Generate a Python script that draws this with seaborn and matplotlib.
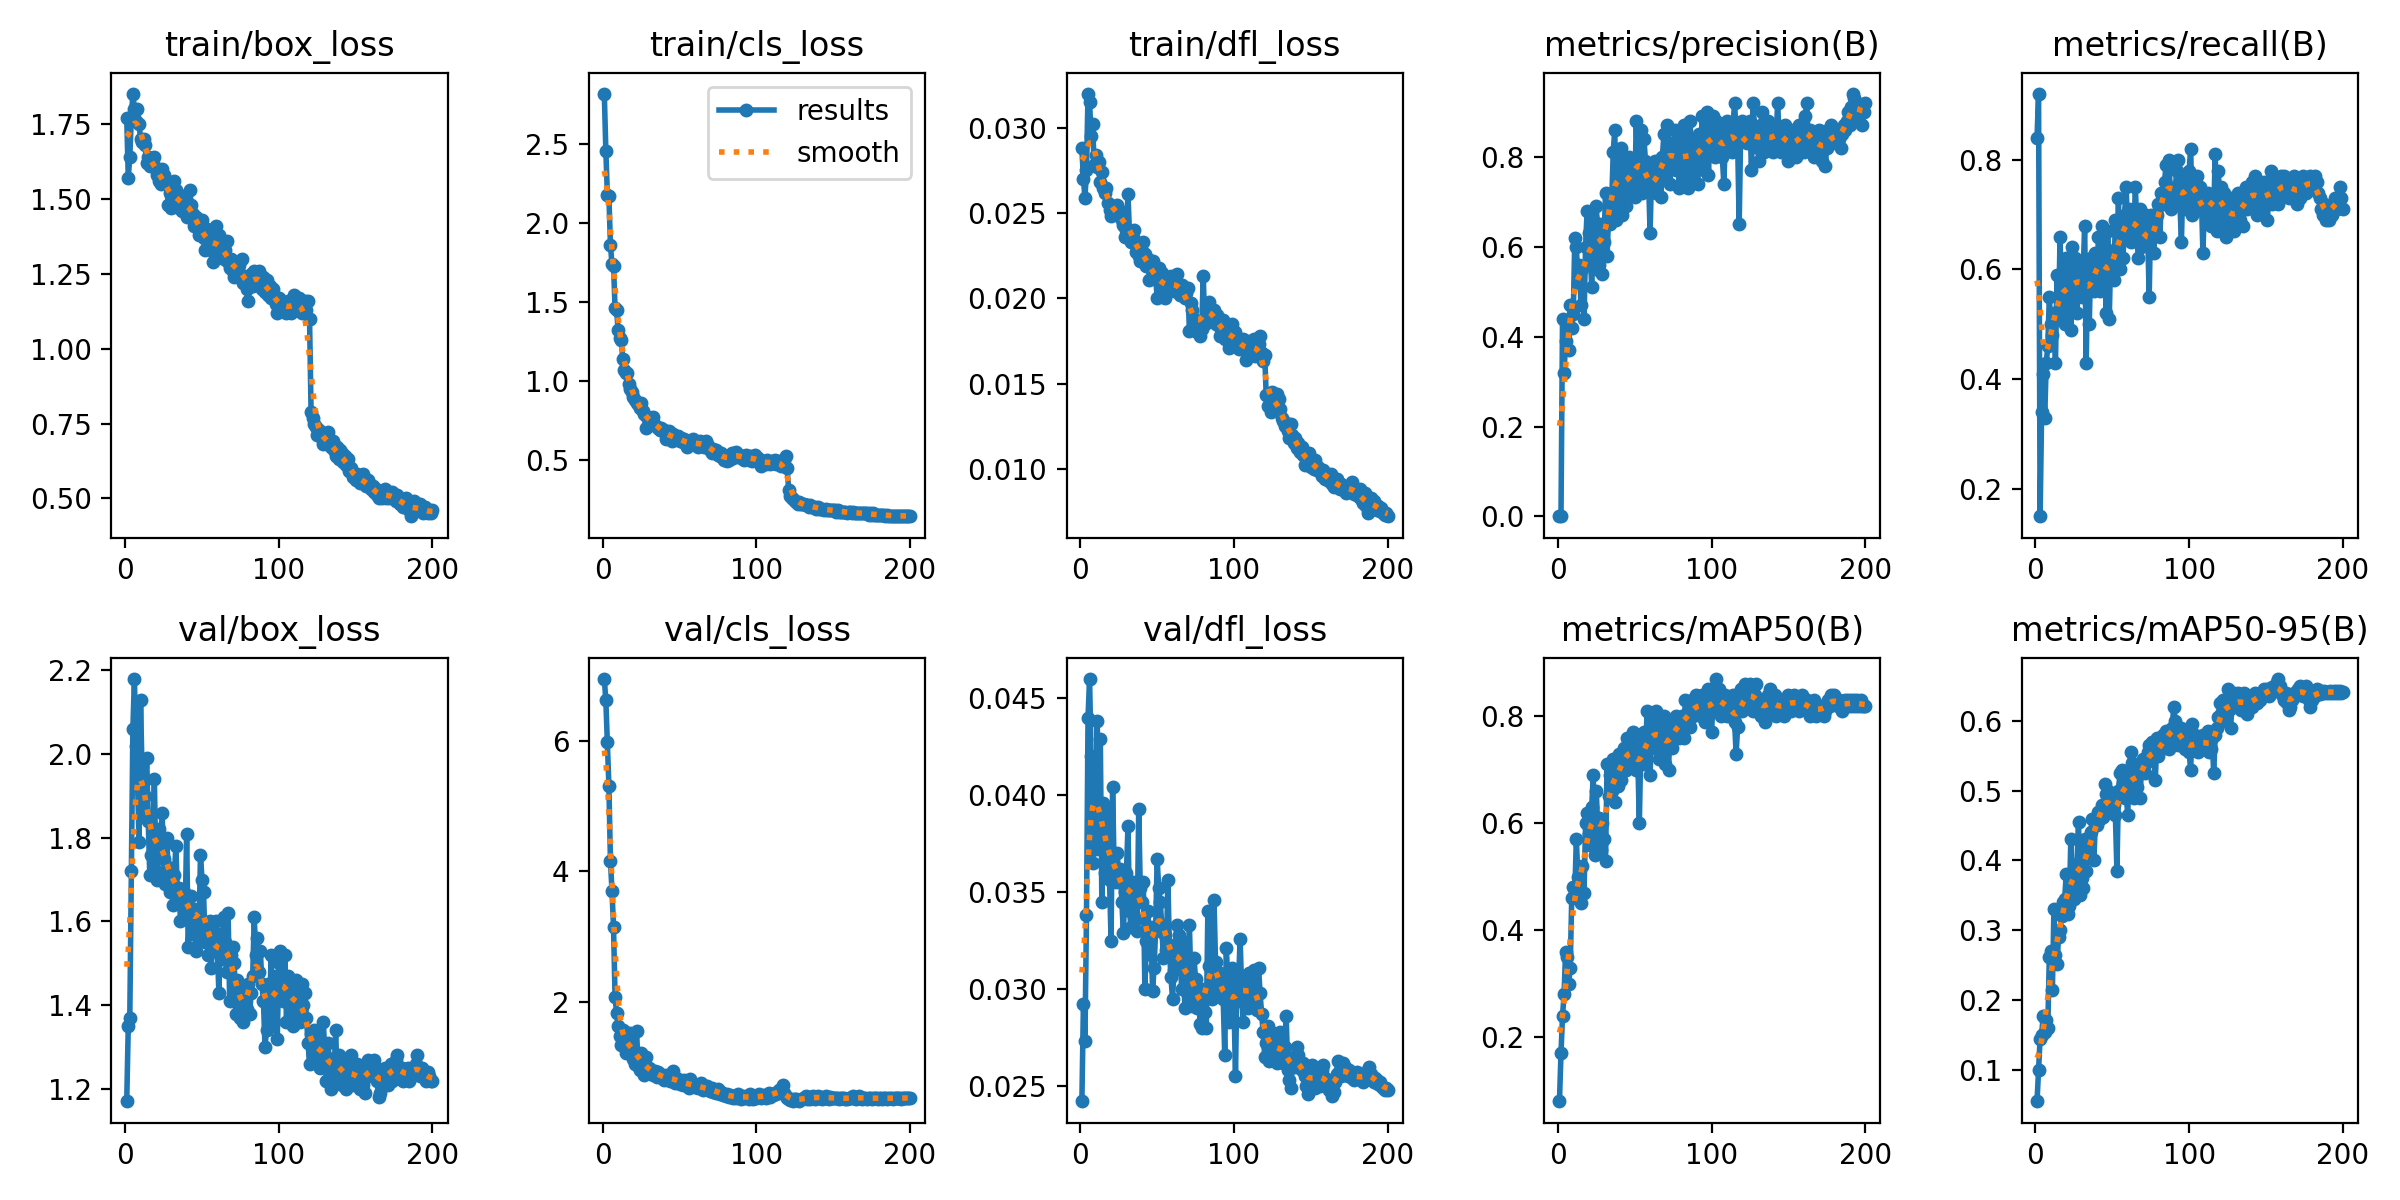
import numpy as np
import seaborn as sns
import matplotlib
matplotlib.use("Agg")
import matplotlib.pyplot as plt
from matplotlib.ticker import MaxNLocator

epochs = np.arange(1, 201)

titles = ["train/box_loss", "train/cls_loss", "train/dfl_loss",
          "metrics/precision(B)", "metrics/recall(B)",
          "val/box_loss", "val/cls_loss", "val/dfl_loss",
          "metrics/mAP50(B)", "metrics/mAP50-95(B)"]

train_box_loss = [
    1.77, 1.57, 1.64, 1.77, 1.85, 1.80, 1.76, 1.80, 1.75, 1.70,
    1.69, 1.70, 1.68, 1.62, 1.64, 1.61, 1.63, 1.62, 1.64, 1.60,
    1.58, 1.56, 1.55, 1.60, 1.58, 1.56, 1.55, 1.48, 1.52, 1.47,
    1.50, 1.56, 1.53, 1.49, 1.47, 1.50, 1.46, 1.51, 1.48, 1.44,
    1.46, 1.53, 1.48, 1.45, 1.41, 1.44, 1.42, 1.38, 1.40, 1.43,
    1.37, 1.33, 1.40, 1.36, 1.34, 1.39, 1.29, 1.32, 1.41, 1.35,
    1.38, 1.34, 1.31, 1.30, 1.33, 1.36, 1.29, 1.27, 1.30, 1.26,
    1.24, 1.29, 1.26, 1.28, 1.25, 1.30, 1.22, 1.24, 1.20, 1.16,
    1.22, 1.25, 1.21, 1.26, 1.23, 1.24, 1.26, 1.22, 1.20, 1.24,
    1.19, 1.23, 1.18, 1.21, 1.17, 1.20, 1.18, 1.15, 1.12, 1.17,
    1.16, 1.13, 1.15, 1.14, 1.12, 1.16, 1.13, 1.12, 1.14, 1.18,
    1.15, 1.13, 1.17, 1.14, 1.12, 1.15, 1.16, 1.13, 1.16, 1.10,
    0.79, 0.77, 0.75, 0.74, 0.71, 0.73, 0.72, 0.70, 0.68, 0.71,
    0.69, 0.72, 0.68, 0.67, 0.69, 0.66, 0.64, 0.67, 0.63, 0.66,
    0.65, 0.62, 0.64, 0.61, 0.63, 0.59, 0.60, 0.57, 0.58, 0.56,
    0.58, 0.57, 0.55, 0.56, 0.58, 0.55, 0.54, 0.56, 0.55, 0.53,
    0.54, 0.52, 0.53, 0.51, 0.50, 0.52, 0.50, 0.51, 0.53, 0.50,
    0.52, 0.50, 0.51, 0.52, 0.50, 0.49, 0.51, 0.50, 0.48, 0.49,
    0.47, 0.49, 0.50, 0.48, 0.46, 0.44, 0.47, 0.49, 0.47, 0.46,
    0.47, 0.48, 0.46, 0.45, 0.47, 0.46, 0.45, 0.46, 0.45, 0.46]

train_cls_loss = [
    2.82, 2.46, 2.18, 2.17, 1.86, 1.74, 1.73, 1.46, 1.45, 1.32,
    1.27, 1.26, 1.14, 1.07, 1.05, 1.05, 0.98, 0.95, 0.93, 0.90,
    0.88, 0.86, 0.85, 0.83, 0.86, 0.81, 0.79, 0.70, 0.77, 0.76,
    0.75, 0.74, 0.77, 0.72, 0.71, 0.70, 0.69, 0.70, 0.68, 0.69,
    0.63, 0.66, 0.68, 0.65, 0.62, 0.66, 0.64, 0.63, 0.65, 0.62,
    0.64, 0.61, 0.63, 0.60, 0.58, 0.62, 0.61, 0.60, 0.63, 0.59,
    0.60, 0.58, 0.62, 0.61, 0.60, 0.58, 0.62, 0.60, 0.58, 0.56,
    0.54, 0.57, 0.55, 0.56, 0.53, 0.52, 0.54, 0.51, 0.50, 0.52,
    0.49, 0.50, 0.52, 0.54, 0.51, 0.53, 0.55, 0.52, 0.53, 0.51,
    0.52, 0.50, 0.53, 0.51, 0.50, 0.52, 0.49, 0.51, 0.53, 0.50,
    0.51, 0.49, 0.46, 0.48, 0.49, 0.47, 0.50, 0.48, 0.47, 0.49,
    0.48, 0.50, 0.47, 0.48, 0.49, 0.46, 0.48, 0.50, 0.52, 0.45,
    0.31, 0.27, 0.26, 0.25, 0.24, 0.23, 0.22, 0.23, 0.22, 0.22,
    0.22, 0.21, 0.21, 0.20, 0.21, 0.20, 0.20, 0.20, 0.19, 0.20,
    0.19, 0.19, 0.19, 0.18, 0.19, 0.18, 0.18, 0.18, 0.18, 0.18,
    0.18, 0.17, 0.18, 0.17, 0.17, 0.17, 0.17, 0.17, 0.16, 0.17,
    0.17, 0.16, 0.17, 0.16, 0.16, 0.16, 0.16, 0.16, 0.16, 0.16,
    0.16, 0.16, 0.15, 0.16, 0.15, 0.16, 0.15, 0.15, 0.15, 0.15,
    0.15, 0.15, 0.15, 0.145, 0.15, 0.145, 0.145, 0.14, 0.145, 0.145,
    0.145, 0.145, 0.14, 0.145, 0.145, 0.14, 0.145, 0.14, 0.145, 0.145]

train_dfl_loss = [
    0.0288, 0.0270, 0.0259, 0.0275, 0.0320, 0.0315, 0.0295, 0.0302, 0.0278, 0.0284,
    0.0277, 0.0280, 0.0268, 0.0274, 0.0265, 0.0262, 0.0265, 0.0256, 0.0252, 0.0248,
    0.0254, 0.0253, 0.0250, 0.0255, 0.0248, 0.0251, 0.0246, 0.0243, 0.0236, 0.0240,
    0.0261, 0.0238, 0.0233, 0.0236, 0.0240, 0.0227, 0.0230, 0.0225, 0.0222, 0.0228,
    0.0233, 0.0226, 0.0219, 0.0223, 0.0211, 0.0218, 0.0222, 0.0215, 0.0213, 0.0200,
    0.0218, 0.0210, 0.0215, 0.0205, 0.0200, 0.0212, 0.0209, 0.0205, 0.0213, 0.0207,
    0.0204, 0.0210, 0.0214, 0.0206, 0.0202, 0.0208, 0.0205, 0.0200, 0.0203, 0.0206,
    0.0181, 0.0197, 0.0193, 0.0188, 0.0185, 0.0180, 0.0186, 0.0178, 0.0182, 0.0213,
    0.0185, 0.0189, 0.0196, 0.0198, 0.0190, 0.0188, 0.0193, 0.0185, 0.0190, 0.0184,
    0.0178, 0.0183, 0.0187, 0.0176, 0.0180, 0.0182, 0.0171, 0.0178, 0.0185, 0.0174,
    0.0180, 0.0176, 0.0170, 0.0174, 0.0172, 0.0176, 0.0170, 0.0164, 0.0172, 0.0175,
    0.0168, 0.0171, 0.0176, 0.0166, 0.0170, 0.0173, 0.0178, 0.0168, 0.0163, 0.0167,
    0.0143, 0.0137, 0.0142, 0.0133, 0.0145, 0.0140, 0.0137, 0.0144, 0.0141, 0.0135,
    0.0130, 0.0128, 0.0125, 0.0127, 0.0122, 0.0118, 0.0126, 0.0120, 0.0115, 0.0118,
    0.0112, 0.0115, 0.0110, 0.0113, 0.0108, 0.0102, 0.0107, 0.0104, 0.0109, 0.0101,
    0.0103, 0.0100, 0.0105, 0.0099, 0.0101, 0.0098, 0.0096, 0.0099, 0.0094, 0.0097,
    0.0095, 0.0093, 0.0097, 0.0091, 0.0089, 0.0092, 0.0094, 0.0090, 0.0088, 0.0091,
    0.0089, 0.0088, 0.0086, 0.0089, 0.0087, 0.0090, 0.0092, 0.0085, 0.0087, 0.0086,
    0.0084, 0.0088, 0.0082, 0.0080, 0.0086, 0.0078, 0.0074, 0.0080, 0.0083, 0.0078,
    0.0081, 0.0079, 0.0076, 0.0078, 0.0075, 0.0077, 0.0074, 0.0073, 0.0074, 0.0072]

precision = [
    0.00, 0.00, 0.44, 0.32, 0.39, 0.43, 0.37, 0.47, 0.42, 0.45,
    0.62, 0.60, 0.52, 0.56, 0.47, 0.55, 0.44, 0.60, 0.68, 0.63,
    0.59, 0.51, 0.66, 0.55, 0.69, 0.62, 0.56, 0.65, 0.54, 0.61,
    0.72, 0.58, 0.67, 0.65, 0.70, 0.81, 0.86, 0.66, 0.72, 0.78,
    0.82, 0.67, 0.75, 0.69, 0.78, 0.80, 0.72, 0.74, 0.78, 0.71,
    0.88, 0.76, 0.74, 0.86, 0.72, 0.84, 0.79, 0.73, 0.75, 0.63,
    0.77, 0.73, 0.79, 0.72, 0.76, 0.78, 0.71, 0.80, 0.85, 0.76,
    0.87, 0.80, 0.74, 0.83, 0.79, 0.86, 0.77, 0.81, 0.73, 0.84,
    0.78, 0.87, 0.75, 0.82, 0.73, 0.88, 0.81, 0.76, 0.84, 0.80,
    0.74, 0.85, 0.79, 0.89, 0.77, 0.82, 0.90, 0.76, 0.86, 0.83,
    0.89, 0.80, 0.88, 0.85, 0.82, 0.87, 0.80, 0.74, 0.84, 0.88,
    0.83, 0.86, 0.81, 0.87, 0.92, 0.85, 0.83, 0.65, 0.86, 0.88,
    0.84, 0.86, 0.83, 0.85, 0.88, 0.77, 0.92, 0.86, 0.84, 0.82,
    0.79, 0.87, 0.90, 0.81, 0.85, 0.83, 0.88, 0.82, 0.84, 0.81,
    0.86, 0.83, 0.92, 0.85, 0.81, 0.86, 0.84, 0.87, 0.82, 0.79,
    0.83, 0.86, 0.81, 0.85, 0.80, 0.84, 0.87, 0.82, 0.85, 0.81,
    0.89, 0.92, 0.83, 0.86, 0.81, 0.84, 0.80, 0.85, 0.83, 0.86,
    0.82, 0.79, 0.84, 0.78, 0.82, 0.86, 0.83, 0.87, 0.84, 0.85,
    0.83, 0.86, 0.84, 0.82, 0.85, 0.87, 0.86, 0.88, 0.90, 0.87,
    0.91, 0.94, 0.93, 0.90, 0.92, 0.89, 0.91, 0.87, 0.90, 0.92]

recall = [
    0.84, 0.92, 0.15, 0.34, 0.41, 0.33, 0.43, 0.46, 0.55, 0.50,
    0.48, 0.52, 0.43, 0.59, 0.51, 0.66, 0.53, 0.57, 0.50, 0.62,
    0.54, 0.60, 0.49, 0.64, 0.56, 0.62, 0.52, 0.58, 0.61, 0.55,
    0.59, 0.68, 0.43, 0.60, 0.50, 0.62, 0.58, 0.56, 0.63, 0.57,
    0.66, 0.56, 0.68, 0.60, 0.64, 0.52, 0.67, 0.51, 0.63, 0.60,
    0.58, 0.69, 0.61, 0.73, 0.60, 0.66, 0.62, 0.70, 0.75, 0.67,
    0.71, 0.65, 0.69, 0.66, 0.75, 0.68, 0.62, 0.71, 0.64, 0.68,
    0.66, 0.70, 0.67, 0.55, 0.70, 0.66, 0.63, 0.68, 0.70, 0.72,
    0.66, 0.74, 0.72, 0.76, 0.79, 0.74, 0.80, 0.71, 0.73, 0.72,
    0.75, 0.78, 0.80, 0.72, 0.65, 0.77, 0.75, 0.71, 0.74, 0.78,
    0.82, 0.70, 0.76, 0.74, 0.77, 0.71, 0.75, 0.73, 0.63, 0.72,
    0.70, 0.74, 0.72, 0.68, 0.73, 0.70, 0.81, 0.67, 0.78, 0.72,
    0.75, 0.68, 0.74, 0.66, 0.72, 0.70, 0.73, 0.69, 0.67, 0.71,
    0.68, 0.74, 0.69, 0.72, 0.68, 0.73, 0.75, 0.71, 0.74, 0.72,
    0.76, 0.73, 0.77, 0.70, 0.75, 0.72, 0.71, 0.74, 0.76, 0.73,
    0.69, 0.75, 0.78, 0.72, 0.74, 0.73, 0.76, 0.72, 0.74, 0.77,
    0.75, 0.77, 0.76, 0.74, 0.73, 0.76, 0.75, 0.77, 0.74, 0.72,
    0.74, 0.73, 0.75, 0.77, 0.76, 0.74, 0.76, 0.75, 0.77, 0.76,
    0.75, 0.77, 0.76, 0.74, 0.73, 0.71, 0.70, 0.72, 0.69, 0.70,
    0.69, 0.71, 0.70, 0.72, 0.73, 0.71, 0.73, 0.75, 0.73, 0.71]

val_box_loss = [
    1.17, 1.35, 1.37, 1.72, 2.06, 2.18, 2.02, 1.94, 1.79, 2.13,
    1.95, 1.86, 1.90, 1.99, 1.84, 1.71, 1.76, 1.80, 1.94, 1.72,
    1.70, 1.82, 1.78, 1.86, 1.75, 1.69, 1.80, 1.73, 1.67, 1.72,
    1.64, 1.71, 1.78, 1.66, 1.68, 1.60, 1.64, 1.67, 1.61, 1.81,
    1.54, 1.62, 1.66, 1.57, 1.63, 1.53, 1.59, 1.56, 1.76, 1.70,
    1.67, 1.55, 1.58, 1.52, 1.60, 1.49, 1.56, 1.55, 1.60, 1.53,
    1.43, 1.57, 1.51, 1.61, 1.55, 1.48, 1.62, 1.41, 1.52, 1.54,
    1.50, 1.38, 1.46, 1.44, 1.37, 1.40, 1.36, 1.42, 1.39, 1.45,
    1.38, 1.43, 1.47, 1.61, 1.52, 1.56, 1.48, 1.53, 1.45, 1.41,
    1.30, 1.34, 1.45, 1.38, 1.52, 1.42, 1.36, 1.47, 1.32, 1.50,
    1.53, 1.45, 1.41, 1.52, 1.36, 1.47, 1.40, 1.44, 1.35, 1.43,
    1.46, 1.38, 1.41, 1.36, 1.45, 1.40, 1.43, 1.37, 1.31, 1.26,
    1.33, 1.28, 1.34, 1.30, 1.27, 1.32, 1.25, 1.29, 1.36, 1.28,
    1.22, 1.31, 1.25, 1.20, 1.27, 1.24, 1.34, 1.22, 1.28, 1.25,
    1.21, 1.26, 1.23, 1.20, 1.25, 1.22, 1.28, 1.24, 1.21, 1.23,
    1.26, 1.22, 1.20, 1.24, 1.21, 1.19, 1.25, 1.27, 1.23, 1.26,
    1.24, 1.27, 1.25, 1.22, 1.18, 1.19, 1.24, 1.22, 1.25, 1.23,
    1.21, 1.24, 1.26, 1.22, 1.25, 1.27, 1.28, 1.24, 1.23, 1.25,
    1.22, 1.24, 1.23, 1.25, 1.22, 1.24, 1.23, 1.25, 1.26, 1.28,
    1.24, 1.23, 1.25, 1.24, 1.23, 1.22, 1.24, 1.23, 1.22, 1.22]

val_cls_loss = [
    6.95, 6.62, 5.98, 5.30, 4.15, 3.70, 3.15, 2.07, 1.82, 1.62,
    1.48, 1.33, 1.57, 1.41, 1.22, 1.30, 1.45, 1.52, 1.25, 1.12,
    1.05, 1.55, 1.02, 0.95, 1.22, 1.10, 0.88, 1.15, 0.92, 0.98,
    0.96, 0.90, 0.88, 0.94, 0.85, 0.92, 0.89, 0.86, 0.83, 0.80,
    0.87, 0.84, 0.82, 0.78, 0.80, 0.93, 0.76, 0.79, 0.82, 0.74,
    0.77, 0.72, 0.80, 0.75, 0.73, 0.68, 0.81, 0.70, 0.74, 0.69,
    0.72, 0.67, 0.70, 0.75, 0.64, 0.68, 0.66, 0.71, 0.65, 0.63,
    0.67, 0.62, 0.64, 0.60, 0.66, 0.58, 0.61, 0.57, 0.59, 0.55,
    0.58, 0.54, 0.57, 0.55, 0.52, 0.56, 0.53, 0.58, 0.54, 0.51,
    0.55, 0.52, 0.54, 0.56, 0.51, 0.58, 0.53, 0.50, 0.55, 0.52,
    0.54, 0.58, 0.52, 0.55, 0.57, 0.53, 0.56, 0.60, 0.54, 0.57,
    0.57, 0.60, 0.58, 0.62, 0.64, 0.66, 0.72, 0.60, 0.55, 0.52,
    0.51, 0.49, 0.50, 0.48, 0.50, 0.51, 0.49, 0.47, 0.50, 0.51,
    0.53, 0.55, 0.51, 0.54, 0.50, 0.52, 0.56, 0.51, 0.53, 0.55,
    0.52, 0.54, 0.51, 0.53, 0.55, 0.53, 0.51, 0.54, 0.52, 0.53,
    0.52, 0.53, 0.52, 0.51, 0.52, 0.53, 0.52, 0.50, 0.51, 0.52,
    0.52, 0.53, 0.55, 0.52, 0.51, 0.53, 0.56, 0.52, 0.51, 0.53,
    0.52, 0.51, 0.53, 0.52, 0.51, 0.52, 0.53, 0.52, 0.51, 0.52,
    0.52, 0.51, 0.53, 0.52, 0.51, 0.52, 0.53, 0.52, 0.51, 0.53,
    0.52, 0.53, 0.52, 0.51, 0.52, 0.53, 0.52, 0.52, 0.53, 0.52]

val_dfl_loss = [
    0.0242, 0.0292, 0.0273, 0.0338, 0.0440, 0.0460, 0.0420, 0.0365, 0.0395, 0.0372,
    0.0438, 0.0380, 0.0429, 0.0345, 0.0396, 0.0360, 0.0385, 0.0392, 0.0356, 0.0325,
    0.0404, 0.0362, 0.0355, 0.0370, 0.0358, 0.0362, 0.0345, 0.0329, 0.0350, 0.0360,
    0.0384, 0.0340, 0.0332, 0.0355, 0.0348, 0.0336, 0.0330, 0.0393, 0.0352, 0.0345,
    0.0355, 0.0300, 0.0325, 0.0340, 0.0318, 0.0332, 0.0299, 0.0311, 0.0330, 0.0367,
    0.0352, 0.0345, 0.0333, 0.0316, 0.0328, 0.0320, 0.0356, 0.0320, 0.0306, 0.0295,
    0.0310, 0.0323, 0.0333, 0.0328, 0.0315, 0.0300, 0.0324, 0.0290, 0.0310, 0.0297,
    0.0333, 0.0302, 0.0291, 0.0316, 0.0305, 0.0290, 0.0296, 0.0282, 0.0280, 0.0300,
    0.0288, 0.0280, 0.0340, 0.0312, 0.0300, 0.0295, 0.0346, 0.0314, 0.0305, 0.0297,
    0.0308, 0.0301, 0.0295, 0.0266, 0.0321, 0.0305, 0.0283, 0.0300, 0.0311, 0.0293,
    0.0255, 0.0308, 0.0303, 0.0326, 0.0300, 0.0283, 0.0296, 0.0305, 0.0290, 0.0308,
    0.0300, 0.0293, 0.0310, 0.0296, 0.0289, 0.0311, 0.0298, 0.0287, 0.0278, 0.0265,
    0.0272, 0.0281, 0.0263, 0.0278, 0.0270, 0.0266, 0.0275, 0.0262, 0.0268, 0.0278,
    0.0268, 0.0262, 0.0270, 0.0286, 0.0258, 0.0253, 0.0249, 0.0262, 0.0265, 0.0260,
    0.0270, 0.0266, 0.0260, 0.0258, 0.0262, 0.0255, 0.0250, 0.0246, 0.0252, 0.0258,
    0.0261, 0.0254, 0.0249, 0.0253, 0.0257, 0.0250, 0.0258, 0.0261, 0.0254, 0.0250,
    0.0253, 0.0248, 0.0250, 0.0245, 0.0247, 0.0252, 0.0256, 0.0263, 0.0258, 0.0255,
    0.0262, 0.0260, 0.0257, 0.0255, 0.0258, 0.0256, 0.0254, 0.0253, 0.0255, 0.0257,
    0.0254, 0.0256, 0.0254, 0.0252, 0.0253, 0.0255, 0.0258, 0.0260, 0.0256, 0.0253,
    0.0252, 0.0254, 0.0253, 0.0251, 0.0252, 0.0250, 0.0249, 0.0248, 0.0249, 0.0248]

map50 = [
    0.08, 0.17, 0.24, 0.28, 0.36, 0.35, 0.30, 0.33, 0.46, 0.48,
    0.47, 0.57, 0.50, 0.46, 0.45, 0.52, 0.47, 0.60, 0.62, 0.58,
    0.56, 0.63, 0.69, 0.54, 0.66, 0.58, 0.61, 0.55, 0.60, 0.57,
    0.53, 0.71, 0.65, 0.69, 0.66, 0.72, 0.64, 0.70, 0.67, 0.73,
    0.68, 0.72, 0.74, 0.70, 0.76, 0.73, 0.71, 0.74, 0.77, 0.75,
    0.70, 0.72, 0.60, 0.75, 0.73, 0.77, 0.71, 0.81, 0.76, 0.69,
    0.78, 0.80, 0.74, 0.81, 0.77, 0.72, 0.79, 0.75, 0.80, 0.71,
    0.76, 0.70, 0.78, 0.74, 0.79, 0.77, 0.80, 0.78, 0.76, 0.79,
    0.80, 0.76, 0.83, 0.79, 0.81, 0.78, 0.83, 0.80, 0.82, 0.84,
    0.81, 0.83, 0.80, 0.84, 0.82, 0.79, 0.83, 0.85, 0.81, 0.77,
    0.83, 0.84, 0.87, 0.82, 0.85, 0.80, 0.83, 0.82, 0.84, 0.80,
    0.81, 0.83, 0.82, 0.84, 0.79, 0.73, 0.78, 0.82, 0.85, 0.81,
    0.83, 0.86, 0.84, 0.82, 0.86, 0.85, 0.81, 0.84, 0.86, 0.83,
    0.82, 0.80, 0.83, 0.81, 0.79, 0.82, 0.84, 0.85, 0.83, 0.81,
    0.84, 0.80, 0.82, 0.83, 0.81, 0.82, 0.80, 0.83, 0.82, 0.84,
    0.83, 0.81, 0.82, 0.84, 0.83, 0.82, 0.81, 0.83, 0.84, 0.83,
    0.82, 0.83, 0.81, 0.80, 0.82, 0.81, 0.83, 0.80, 0.81, 0.82,
    0.81, 0.82, 0.80, 0.81, 0.82, 0.83, 0.82, 0.84, 0.83, 0.84,
    0.83, 0.82, 0.83, 0.82, 0.81, 0.82, 0.83, 0.82, 0.83, 0.82,
    0.83, 0.82, 0.83, 0.82, 0.83, 0.82, 0.83, 0.82, 0.82, 0.82]

map50_95 = [
    0.055, 0.100, 0.145, 0.150, 0.178, 0.155, 0.172, 0.160, 0.262, 0.270,
    0.215, 0.330, 0.265, 0.252, 0.290, 0.300, 0.320, 0.340, 0.345, 0.380,
    0.323, 0.335, 0.430, 0.360, 0.345, 0.380, 0.395, 0.455, 0.350, 0.375,
    0.360, 0.430, 0.385, 0.420, 0.415, 0.440, 0.460, 0.400, 0.455, 0.450,
    0.470, 0.460, 0.480, 0.462, 0.510, 0.495, 0.500, 0.475, 0.490, 0.470,
    0.480, 0.465, 0.385, 0.500, 0.525, 0.530, 0.510, 0.490, 0.500, 0.465,
    0.520, 0.555, 0.540, 0.490, 0.520, 0.505, 0.535, 0.490, 0.530, 0.545,
    0.525, 0.540, 0.555, 0.565, 0.545, 0.570, 0.560, 0.515, 0.575, 0.550,
    0.565, 0.560, 0.580, 0.570, 0.585, 0.575, 0.560, 0.580, 0.590, 0.620,
    0.600, 0.585, 0.565, 0.575, 0.590, 0.570, 0.560, 0.580, 0.565, 0.555,
    0.530, 0.595, 0.560, 0.580, 0.565, 0.555, 0.575, 0.560, 0.580, 0.570,
    0.565, 0.585, 0.555, 0.560, 0.575, 0.525, 0.580, 0.590, 0.605, 0.625,
    0.610, 0.630, 0.600, 0.620, 0.645, 0.615, 0.590, 0.625, 0.640, 0.630,
    0.620, 0.640, 0.625, 0.615, 0.630, 0.640, 0.620, 0.610, 0.625, 0.635,
    0.620, 0.630, 0.640, 0.625, 0.635, 0.630, 0.640, 0.635, 0.645, 0.640,
    0.645, 0.635, 0.640, 0.648, 0.645, 0.650, 0.655, 0.660, 0.650, 0.640,
    0.635, 0.630, 0.640, 0.625, 0.615, 0.620, 0.630, 0.640, 0.635, 0.640,
    0.645, 0.650, 0.640, 0.635, 0.645, 0.650, 0.640, 0.630, 0.620, 0.630,
    0.640, 0.635, 0.645, 0.640, 0.638, 0.642, 0.640, 0.643, 0.640, 0.641,
    0.640, 0.642, 0.640, 0.643, 0.640, 0.642, 0.640, 0.643, 0.640, 0.641]

series = [train_box_loss, train_cls_loss, train_dfl_loss, precision, recall,
          val_box_loss, val_cls_loss, val_dfl_loss, map50, map50_95]


def gaussian_smooth(y, sigma=3):
    # same idea as scipy gaussian_filter1d (reflect mode, truncate=4)
    r = int(4 * sigma + 0.5)
    k = np.exp(-0.5 * (np.arange(-r, r + 1) / sigma) ** 2)
    k /= k.sum()
    yp = np.pad(np.asarray(y, dtype=float), r, mode="symmetric")
    return np.convolve(yp, k, mode="valid")


fig, axes = plt.subplots(2, 5, figsize=(12, 6), tight_layout=True)
axes = axes.ravel()

for ax, y, title in zip(axes, series, titles):
    assert len(y) == len(epochs), title
    y = np.asarray(y, dtype=float)
    sns.lineplot(x=epochs, y=y, ax=ax, marker=".", markersize=8, linewidth=2,
                 color="#1f77b4", markeredgecolor="#1f77b4", markeredgewidth=1,
                 label="results", legend=False, sort=False)
    sns.lineplot(x=epochs, y=gaussian_smooth(y), ax=ax, linestyle=":",
                 linewidth=2, color="#ff7f0e", label="smooth", legend=False,
                 sort=False)
    ax.set_title(title, fontsize=12)
    ax.set(xlabel="", ylabel="")
    ax.yaxis.set_major_locator(MaxNLocator(nbins=7, steps=[1, 2, 2.5, 5, 10]))

axes[1].legend()
fig.savefig("out.png", dpi=200)
